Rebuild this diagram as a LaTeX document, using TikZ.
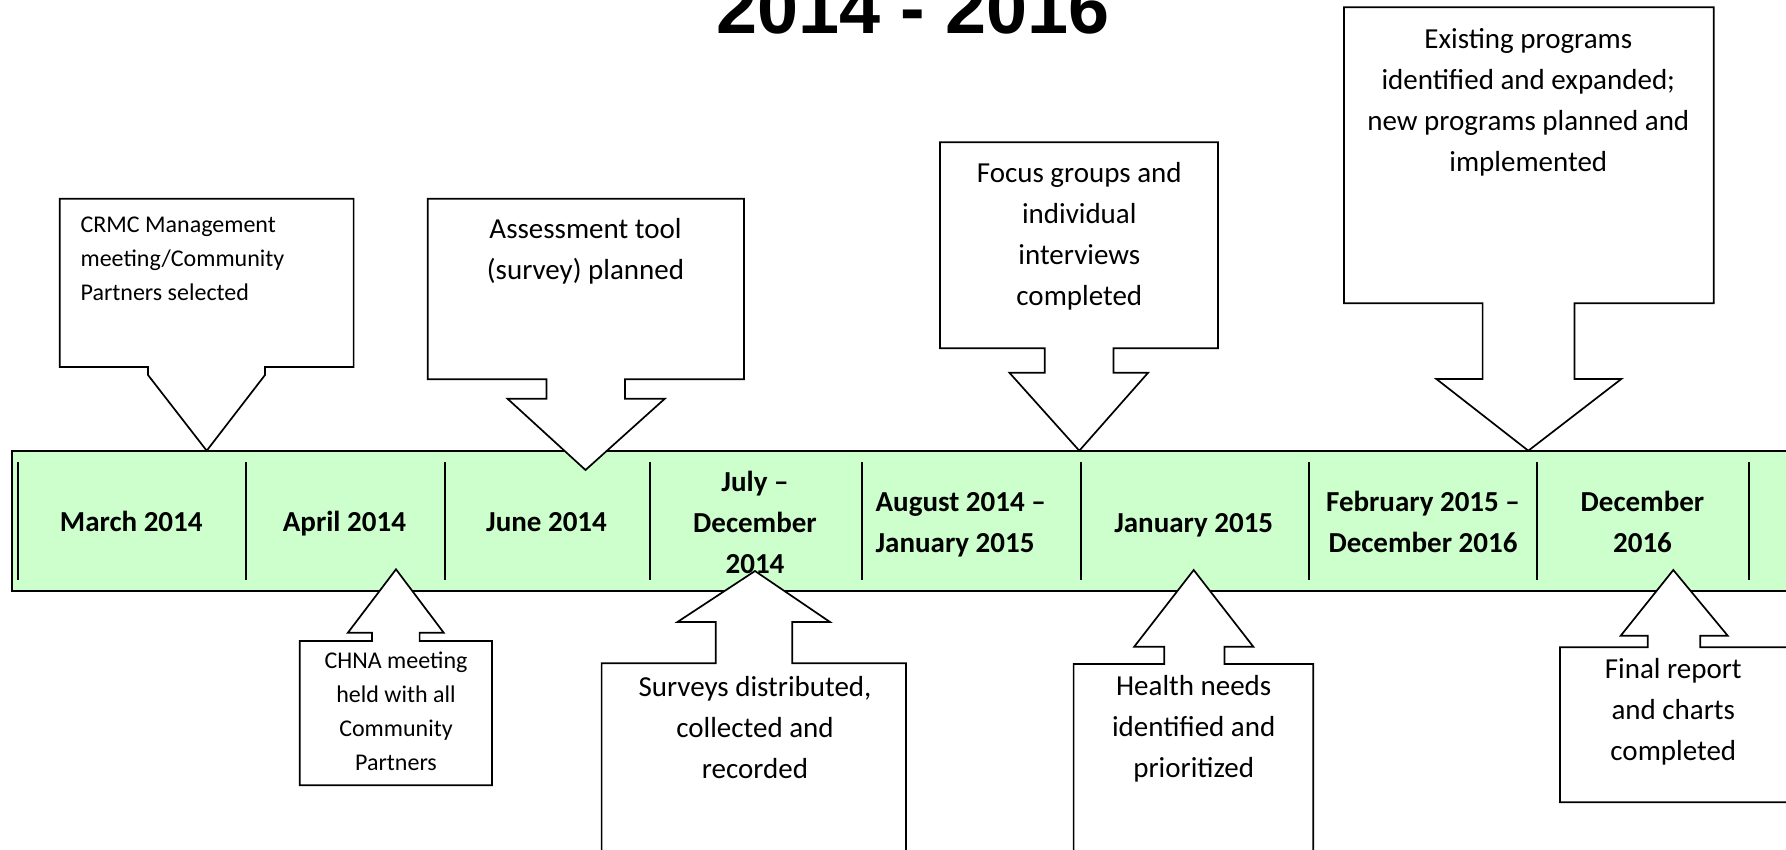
\documentclass[tikz,border=0pt]{standalone}
\usepackage{fontspec}
\setmainfont{Carlito}
\newfontfamily\titlefont{Liberation Sans}
\definecolor{barfill}{RGB}{204,255,204}
\begin{document}
\begin{tikzpicture}[x=1pt,y=-1pt,
  bigtxt/.style={font=\fontsize{29}{41}\selectfont, inner sep=0pt, align=center},
  smalltxt/.style={font=\fontsize{24}{34}\selectfont, inner sep=0pt, align=center},
  datetxt/.style={font=\fontsize{29}{41}\selectfont\bfseries, inner sep=0pt, align=center},
  callout/.style={draw=black, fill=white, line width=1.7pt, line join=miter},
  bar/.style={draw=black, fill=barfill, line width=2pt},
  divider/.style={draw=black, line width=2pt}]
\useasboundingbox (0,0) rectangle (1786,849);
\clip (0,0) rectangle (1786,849);
\fill[white] (0,0) rectangle (1786,849);

% title
\node[font=\titlefont\bfseries\fontsize{73.8}{80}\selectfont, anchor=base, inner sep=0pt] (title) at (913,33.3) {2014 - 2016};

% timeline bar
\path[bar] (12,451) rectangle (1800,590.7);
\foreach \x in {18,246,445,650.4,862.2,1081,1309,1537,1748.5}
  \draw[divider] (\x,462.3) -- (\x,580);

% date labels
\node[datetxt] (d1) at (131.3,523.7) {\strut March 2014};
\node[datetxt] (d2) at (344.4,523.7) {\strut April 2014};
\node[datetxt] (d3) at (546.5,523.7) {\strut June 2014};
\node[datetxt] (d4) at (755,524.2) {\strut July –\\December\\2014\strut};
\node[datetxt, align=left, anchor=west] (d5) at (875.4,523.8) {\strut August 2014 –\\January 2015\strut};
\node[datetxt] (d6) at (1193.7,524.5) {\strut January 2015};
\node[datetxt] (d7) at (1423,523.8) {\strut February 2015 –\\December 2016\strut};
\node[datetxt] (d8) at (1642.5,523.8) {\strut December\\2016\strut};

% top callouts
\path[callout] (59.7,198.7) -- (353.6,198.7) -- (353.6,367) -- (265,367) -- (265,375) -- (206.7,450.7) -- (148,375) -- (148,367) -- (59.7,367) -- cycle;
\path[callout] (427.7,198.7) -- (744,198.7) -- (744,379.3) -- (625,379.3) -- (625,398.7) -- (664.8,398.7) -- (585.5,470) -- (507.5,398.7) -- (546.5,398.7) -- (546.5,379.3) -- (427.7,379.3) -- cycle;
\path[callout] (940,142.3) -- (1218,142.3) -- (1218,348.3) -- (1113.4,348.3) -- (1113.4,372.7) -- (1148.1,372.7) -- (1079.3,450.7) -- (1009.4,372.7) -- (1044.7,372.7) -- (1044.7,348.3) -- (940,348.3) -- cycle;
\path[callout] (1344,7.3) -- (1713.8,7.3) -- (1713.8,303.3) -- (1574.5,303.3) -- (1574.5,379) -- (1621.3,379) -- (1528.3,450.7) -- (1436.4,379) -- (1482.6,379) -- (1482.6,303.3) -- (1344,303.3) -- cycle;

% bottom callouts
\path[callout] (396,569.3) -- (443.7,632.7) -- (419.6,632.7) -- (419.6,641) -- (492,641) -- (492,785.3) -- (299.7,785.3) -- (299.7,641) -- (372,641) -- (372,632.7) -- (347.9,632.7) -- cycle;
\path[callout] (755,571) -- (830,622) -- (792.2,622) -- (792.2,663.3) -- (906,663.3) -- (906,870) -- (601.6,870) -- (601.6,663.3) -- (715.8,663.3) -- (715.8,622) -- (677.4,622) -- cycle;
\path[callout] (1193.7,570) -- (1253.3,646.7) -- (1224.4,646.7) -- (1224.4,664) -- (1313.3,664) -- (1313.3,870) -- (1073.6,870) -- (1073.6,664) -- (1164.3,664) -- (1164.3,646.7) -- (1134.2,646.7) -- cycle;
\path[callout] (1673.3,570) -- (1727.7,635.7) -- (1700.3,635.7) -- (1700.3,647.3) -- (1790,647.3) -- (1790,802.3) -- (1560,802.3) -- (1560,647.3) -- (1647.7,647.3) -- (1647.7,635.7) -- (1620.7,635.7) -- cycle;

% callout texts
\node[smalltxt, align=left, anchor=west] (crmc) at (80.4,259.3) {\strut CRMC Management\\meeting/Community\\Partners selected\strut};
\node[bigtxt] (assess) at (585.5,250.9) {\strut Assessment tool\\(survey) planned\strut};
\node[bigtxt] (focus) at (1079.3,235.3) {\strut Focus groups and\\individual\\interviews\\completed\strut};
\node[bigtxt] (exist) at (1528.3,101.5) {\strut Existing programs\\identified and expanded;\\new programs planned and\\implemented\strut};
\node[smalltxt] (chna) at (396,712.4) {\strut CHNA meeting\\held with all\\Community\\Partners\strut};
\node[bigtxt] (surveys) at (755,729.3) {\strut Surveys distributed,\\collected and\\recorded\strut};
\node[bigtxt] (health) at (1193.7,728.4) {\strut Health needs\\identified and\\prioritized\strut};
\node[bigtxt] (final) at (1673.3,711.6) {\strut Final report\\and charts\\completed\strut};
\end{tikzpicture}
\end{document}
